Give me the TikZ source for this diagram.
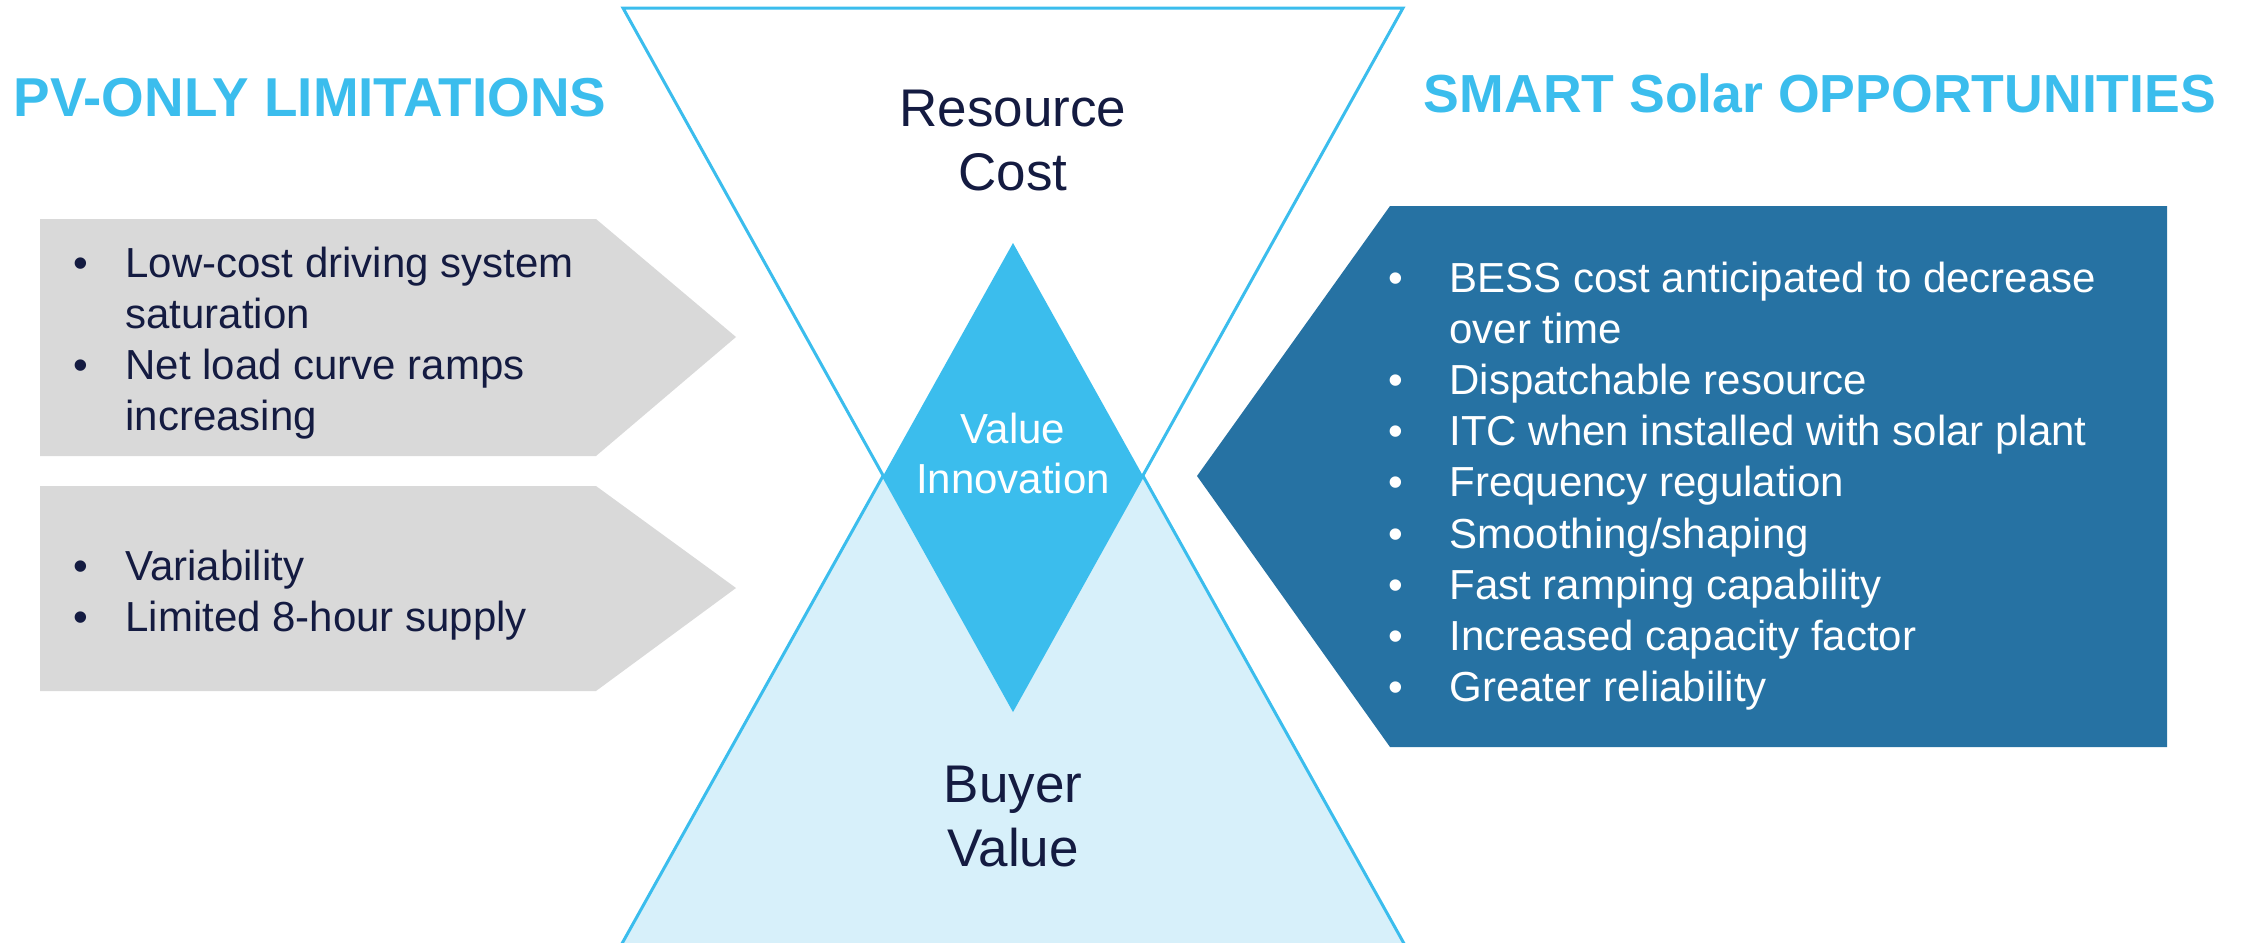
\documentclass[tikz,border=0pt]{standalone}
\usepackage{fontspec}
\setmainfont{Liberation Sans}
\usepackage{tikz}
\usetikzlibrary{calc}

\definecolor{skyline}{HTML}{3BBDED}
\definecolor{skyfill}{HTML}{D7F0FA}
\definecolor{greybox}{HTML}{D9D9D9}
\definecolor{deepblue}{HTML}{2672A3}
\definecolor{navy}{HTML}{141B41}

\tikzset{
  heading/.style={font=\fontsize{26.8}{31.5}\selectfont\bfseries, text=skyline,
    inner sep=0pt, anchor=base},
  bigtext/.style={font=\fontsize{26.5}{32}\selectfont, text=navy, align=center,
    inner sep=0pt, anchor=base},
  listtext/.style={font=\fontsize{21}{25.6}\selectfont, inner sep=0pt,
    anchor=base west},
  funnel/.style={draw=skyline, line width=1.5pt, line join=miter}
}

\newcommand{\bulletlist}[2]{\begin{tabular}[t]{@{}p{#1}@{}l@{}}#2\end{tabular}}

\begin{document}
\begin{tikzpicture}[x=0.5pt,y=-0.5pt]
  \useasboundingbox (0,0) rectangle (2241,942);

  \filldraw[funnel, fill=skyfill] (619.5,948) -- (1013,243) -- (1406.5,948) -- cycle;
  \filldraw[funnel, fill=white] (623,8) -- (1403,8) -- (1013,709) -- cycle;
  \fill[skyline] (1013,243) -- (1143,476) -- (1013,709) -- (883,476) -- cycle;

  \fill[greybox] (40,219) -- (596,219) -- (736,337) -- (596,456) -- (40,456) -- cycle;
  \fill[greybox] (40,486) -- (596,486) -- (736,588) -- (596,691) -- (40,691) -- cycle;
  \fill[deepblue] (1390,206) -- (2167,206) -- (2167,747) -- (1390,747) -- (1197,476) -- cycle;

  \node[heading, font=\fontsize{27.4}{31.5}\selectfont\bfseries] (pvtitle) at (310,116)
    {PV-ONLY LIMITATIONS};
  \node[heading] (smarttitle) at (1820,112) {SMART Solar OPPORTUNITIES};

  \node[bigtext] (cost) at (1013,190) {Resource\\Cost};
  \node[bigtext] (buyer) at (1013,866) {Buyer\\Value};
  \node[bigtext, font=\fontsize{21}{25}\selectfont, text=white] (innov) at (1013,493)
    {Value\\Innovation};

  \node[listtext, text=navy] (pvlistA) at (73,277) {\bulletlist{26pt}{%
    \textbullet & Low-cost driving system\\
                & saturation\\
    \textbullet & Net load curve ramps\\
                & increasing}};
  \node[listtext, text=navy] (pvlistB) at (73,580) {\bulletlist{26pt}{%
    \textbullet & Variability\\
    \textbullet & Limited 8-hour supply}};

  \node[listtext, text=white] (smartlist) at (1388,292) {\bulletlist{30.5pt}{%
    \textbullet & BESS cost anticipated to decrease\\
                & over time\\
    \textbullet & Dispatchable resource\\
    \textbullet & ITC when installed with solar plant\\
    \textbullet & Frequency regulation\\
    \textbullet & Smoothing/shaping\\
    \textbullet & Fast ramping capability\\
    \textbullet & Increased capacity factor\\
    \textbullet & Greater reliability}};
\end{tikzpicture}
\end{document}
